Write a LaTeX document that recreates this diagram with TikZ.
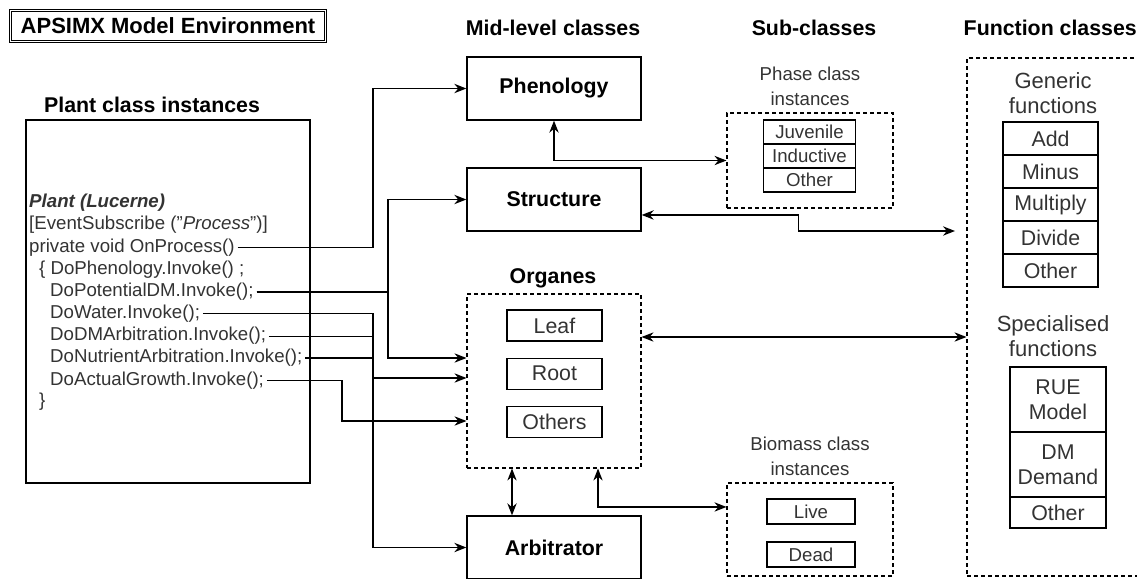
\documentclass[tikz,border=0pt]{standalone}
\usepackage{fontspec}
\setmainfont{Liberation Sans}
\usepackage{tikz}
\usetikzlibrary{arrows.meta,positioning,calc}
\definecolor{txtgray}{HTML}{333333}

\begin{document}
\begin{tikzpicture}[x=0.75pt,y=-0.75pt,
			hdr/.style={font=\fontsize{16}{19}\selectfont\bfseries},
			cls/.style={draw,line width=1pt,minimum width=130.5pt,minimum height=47.25pt,font=\fontsize{16}{19}\selectfont\bfseries},
			grp/.style={draw,line width=0.8pt,dash pattern=on 3pt off 2.25pt},
			itm/.style={draw,line width=0.8pt,inner sep=0pt,text=txtgray,align=center,font=\fontsize{16}{18.75}\selectfont},
			sml/.style={draw,line width=0.8pt,inner sep=0pt,text=txtgray,font=\fontsize{14}{16}\selectfont},
			lbl/.style={text=txtgray,align=center,font=\fontsize{14}{18.75}\selectfont},
			flbl/.style={text=txtgray,align=center,font=\fontsize{16.5}{18.75}\selectfont},
			code/.style={anchor=west,inner sep=2pt,text=txtgray,font=\fontsize{14}{16.5}\selectfont,text height=10pt,text depth=3pt},
			link/.style={line width=1pt,-{Stealth[length=9pt,width=7pt]}},
			dlink/.style={line width=1pt,{Stealth[length=9pt,width=7pt]}-{Stealth[length=9pt,width=7pt]}}]
		\useasboundingbox (0,0) rectangle (1137,578);
		\path 	(168,26) node (title) [draw,double,double distance=1.2pt,line width=0.75pt,minimum width=236pt,minimum height=23.5pt,inner sep=0pt,font=\fontsize{16.5}{19}\selectfont\bfseries] {APSIMX Model Environment}
		        (152,105) node (plantHdr) [hdr] {Plant class instances}
		        (553,28) node (midHdr) [hdr] {Mid-level classes}
		        (814,28) node (subHdr) [hdr] {Sub-classes}
		        (959,28) node (fnHdr) [hdr,anchor=west] {Function classes}
		        (553,278) node (orgHdr) [hdr] {Organes};
		\path 	(168,301.5) node (plant) [draw,line width=1pt,minimum width=213pt,minimum height=272.25pt] {}
		        (26.3,203) node (l1) [code] {\textbf{\textit{Plant (Lucerne)}}}
		        (26.3,225.1) node (l2) [code] {[EventSubscribe ("\textit{Process}")]}
		        (26.3,247.5) node (l3) [code] {private void OnProcess()}
		        (36.3,269.6) node (l4) [code] {\{ DoPhenology.Invoke() ;}
		        (47.3,292) node (l5) [code] {DoPotentialDM.Invoke();}
		        (47.3,313.8) node (l6) [code] {DoWater.Invoke();}
		        (47.3,336.2) node (l7) [code] {DoDMArbitration.Invoke();}
		        (47.3,358) node (l8) [code] {DoNutrientArbitration.Invoke();}
		        (47.3,380.4) node (l9) [code] {DoActualGrowth.Invoke();}
		        (36.3,402) node (l10) [code] {\}};
		\path 	(554,88.5) node (phen) [cls] {Phenology}
		        (554,199.5) node (struct) [cls] {Structure}
		        (554,381) node (organs) [grp,minimum width=130.5pt,minimum height=130.5pt] {}
		        (554,547.5) node (arb) [cls] {Arbitrator};
		\node (leaf) [itm,minimum width=71.25pt,minimum height=23.25pt] at (554.5,325.5) {Leaf};
		\node (root) [itm,minimum width=71.25pt,minimum height=23.25pt,below=12pt of leaf] {Root};
		\node (others) [itm,minimum width=71.25pt,minimum height=23.25pt,below=12pt of root] {Others};
		\path 	(810,86) node (phaseLbl) [lbl] {Phase class\\instances}
		        (810,160.5) node (phase) [grp,minimum width=124.5pt,minimum height=71.25pt] {}
		        (810,456) node (bioLbl) [lbl] {Biomass class\\instances}
		        (810,529.5) node (bio) [grp,minimum width=124.5pt,minimum height=69.75pt] {};
		\node (juv) [sml,minimum width=69pt,minimum height=18pt] at (809.5,132) {Juvenile};
		\node (ind) [sml,minimum width=69pt,minimum height=18pt,below=-0.8pt of juv] {Inductive};
		\node (oth) [sml,minimum width=69pt,minimum height=18pt,below=-0.8pt of ind] {Other};
		\node (live) [sml,minimum width=66pt,minimum height=18.75pt] at (811,511.5) {Live};
		\node (dead) [sml,minimum width=66pt,minimum height=18.75pt] at (811,554.5) {Dead};
		\path 	(1056,317) node (func) [grp,minimum width=133.5pt,minimum height=388.5pt] {}
		        (1053,93) node (genLbl) [flbl] {Generic\\functions}
		        (1053,336) node (specLbl) [flbl] {Specialised\\functions};
		\node (add) [itm,minimum width=71.25pt,minimum height=24.75pt] at (1050.5,138.5) {Add};
		\node (minus) [itm,minimum width=71.25pt,minimum height=24.75pt,below=-0.8pt of add] {Minus};
		\node (mult) [itm,minimum width=71.25pt,minimum height=24.75pt,below=-0.8pt of minus] {Multiply};
		\node (div) [itm,minimum width=71.25pt,minimum height=24.75pt,below=-0.8pt of mult] {Divide};
		\node (fnoth) [itm,minimum width=71.25pt,minimum height=24.75pt,below=-0.8pt of div] {Other};
		\node (rue) [itm,minimum width=72pt,minimum height=48.75pt] at (1058,399.5) {RUE\\Model};
		\node (dmd) [itm,minimum width=72pt,minimum height=48.75pt,below=-0.8pt of rue] {DM\\Demand};
		\node (spoth) [itm,minimum width=72pt,minimum height=23.25pt,below=-0.8pt of dmd] {Other};
		\coordinate (busA) at (373,0);
		\coordinate (busB) at (388,0);
		\coordinate (busC) at (342,0);
		\coordinate (orgA) at ([yshift=17.25pt]organs.west);
		\coordinate (orgB) at ([yshift=2.25pt]organs.west);
		\coordinate (orgC) at ([yshift=-30pt]organs.west);
		\coordinate (orgR) at ([yshift=33pt]organs.east);
		\coordinate (stOut) at ([yshift=-11.6pt]struct.east);
		\coordinate (fnA) at (955,231);
		\coordinate (bioIn) at ([yshift=16.9pt]bio.west);
		\draw [link] (l3.east) -| (busA |- phen.west) -- (phen.west);
		\draw [link] (l5.east) -| (busB |- struct.west) -- (struct.west);
		\draw [link] (l5.east) -| (busB |- orgA) -- (orgA);
		\draw [link] (l6.east) -| (busA |- arb.west) -- (arb.west);
		\draw [line width=1pt] (l7.east) -- (l7.east -| busA);
		\draw [line width=1pt] (l8.east) -- (l8.east -| busA);
		\draw [link] (busA |- orgB) -- (orgB);
		\draw [link] (l9.east) -| (busC |- orgC) -- (orgC);
		\draw [dlink] (phen.south) |- (phase.west);
		\draw [dlink] (stOut) -| ($(stOut)!.5!(fnA)$) |- (fnA);
		\draw [dlink] (orgR) -- (orgR -| func.west);
		\draw [dlink] ([xshift=-31.5pt]organs.south) -- ([xshift=-31.5pt]arb.north);
		\draw [dlink] ([xshift=33pt]organs.south) |- (bioIn);
	\end{tikzpicture}
\end{document}
